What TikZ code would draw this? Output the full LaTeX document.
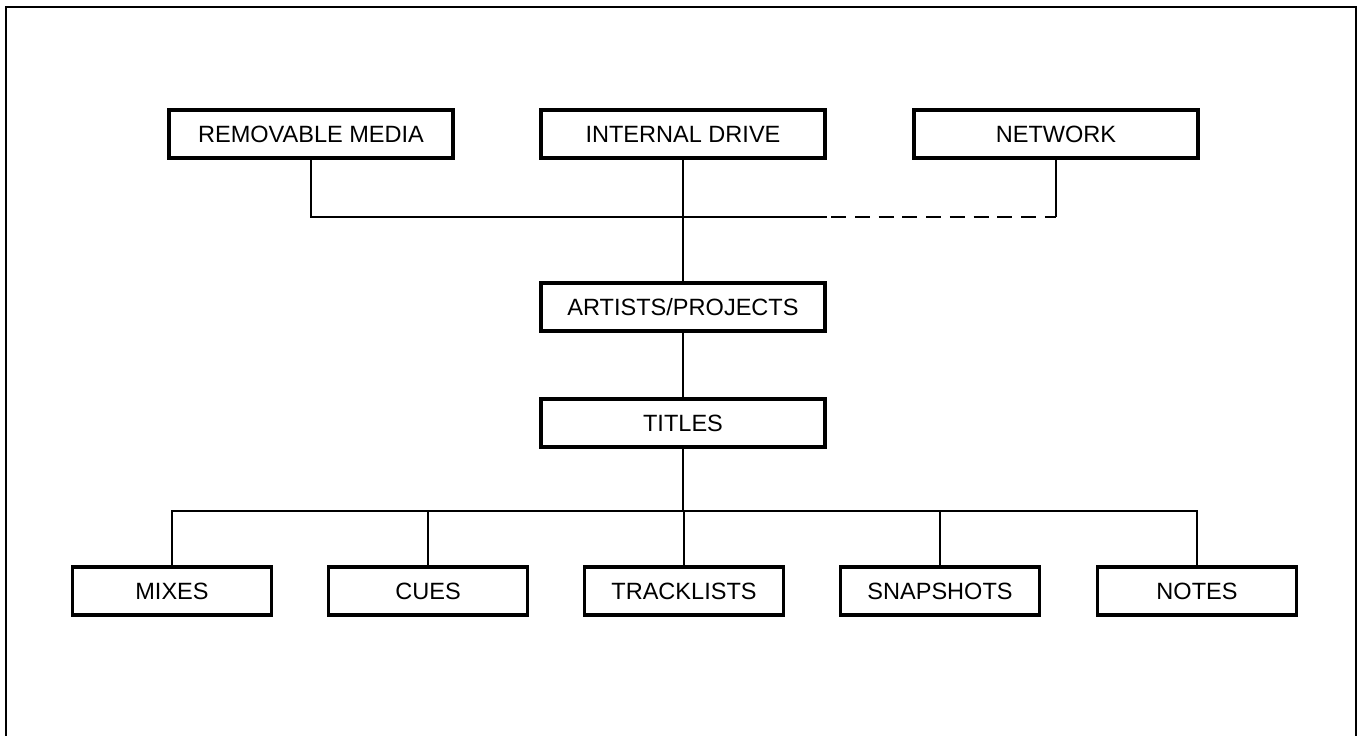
\documentclass[tikz,border=0pt]{standalone}
\usepackage{fontspec}
\setmainfont{Liberation Sans}
\usetikzlibrary{positioning}
\begin{document}
\begin{tikzpicture}[x=0.02cm, y=-0.02cm,
    every node/.style={font=\fontsize{13.4}{15}\selectfont},
    store/.style={draw, line width=2.2pt, minimum width=5.68cm, minimum height=0.95cm, inner sep=0pt},
    leaf/.style={store, minimum width=3.98cm},
    wire/.style={line width=0.8pt},
    gapwire/.style={wire, dash pattern=on 8.5pt off 5pt, dash phase=11pt}]
  \useasboundingbox (0,0) rectangle (1358,736);
  % Frame
  \draw[line width=1pt] (6,736) -- (6,7) -- (1356,7) -- (1356,736);
  % Storage locations
  \node[store] (removable) at (311,134) {REMOVABLE MEDIA};
  \node[store] (internal) at (683,134) {INTERNAL DRIVE};
  \node[store] (network) at (1056,134) {NETWORK};
  % Hierarchy
  \node[store] (artists) at (683,307) {ARTISTS/PROJECTS};
  \node[store] (titles) at (683,423) {TITLES};
  % Contents of a title
  \node[leaf] (mixes) at (172,591) {MIXES};
  \node[leaf] (cues) at (428,591) {CUES};
  \node[leaf] (tracklists) at (684,591) {TRACKLISTS};
  \node[leaf] (snapshots) at (940,591) {SNAPSHOTS};
  \node[leaf] (notes) at (1197,591) {NOTES};
  % Connectors
  \coordinate (solidend) at (internal.east |- 0,217);
  \coordinate (netcorner) at (network.south |- 0,217);
  \coordinate (bus) at (titles.south |- 0,511);
  \draw[wire] (removable.south) |- (solidend);
  \draw[gapwire] (solidend) -- (netcorner);
  \draw[wire] (network.south) -- (netcorner);
  \draw[wire] (internal) -- (artists);
  \draw[wire] (artists) -- (titles);
  \draw[wire] (titles.south) -- (bus);
  \foreach \leafname in {mixes, cues, tracklists, snapshots, notes}
    \draw[wire] (bus) -| (\leafname.north);
\end{tikzpicture}
\end{document}
